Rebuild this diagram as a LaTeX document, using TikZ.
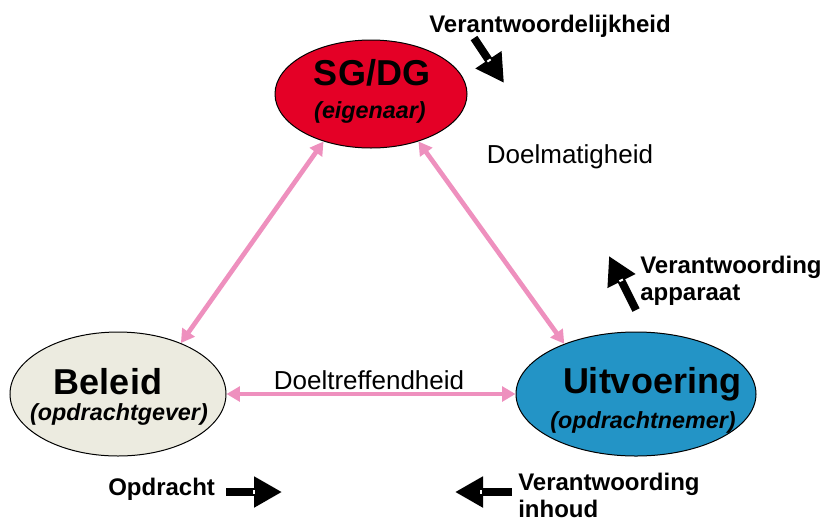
\documentclass[tikz,border=0pt]{standalone}
\usepackage{fontspec}
\setmainfont{Liberation Sans}
\usetikzlibrary{shapes.geometric,arrows.meta}

\definecolor{sgred}{HTML}{E40026}
\definecolor{beleidgrey}{HTML}{ECEBE0}
\definecolor{uitvblue}{HTML}{2394C6}
\definecolor{linkpink}{HTML}{EE90BE}

\tikzset{
  role/.style={draw=black, line width=0.75pt, ellipse, inner sep=0pt},
  title/.style={anchor=base, font=\fontsize{27}{30}\selectfont\bfseries},
  subtitle/.style={anchor=base, font=\fontsize{17.5}{20}\selectfont\bfseries\itshape},
  relation/.style={anchor=base, font=\fontsize{19.5}{22}\selectfont},
  flow/.style={anchor=base west, align=left, inner sep=0pt, font=\fontsize{18}{20}\selectfont\bfseries},
  link/.style={linkpink, line width=3.5pt, {Triangle[length=10pt,width=11pt]}-{Triangle[length=10pt,width=11pt]}},
  blockarrow/.style={black, line width=6pt, -{Triangle[length=21pt,width=22pt]}},
  whitemark/.style={sloped, fill=white, inner sep=0pt, minimum width=1.5pt, minimum height=3pt}
}

\begin{document}
\begin{tikzpicture}[x=0.75pt, y=-0.75pt]
    \useasboundingbox (0,0) rectangle (824,522);

    % The three roles
    \node[role, fill=sgred, minimum width=144pt, minimum height=81pt] (sg) at (371,94) {};
    \node[role, fill=beleidgrey, minimum width=162pt, minimum height=93pt] (beleid) at (118,394) {};
    \node[role, fill=uitvblue, minimum width=180pt, minimum height=93pt] (uitv) at (636,394) {};

    \node[title] (sgT) at (372,85) {SG/DG};
    \node[subtitle] (sgS) at (370,118) {(eigenaar)};
    \node[title] (beleidT) at (108,394) {Beleid};
    \node[subtitle] (beleidS) at (119,420) {(opdrachtgever)};
    \node[title] (uitvT) at (652,393) {Uitvoering};
    \node[subtitle] (uitvS) at (643,428) {(opdrachtnemer)};

    % Relations between the roles
    \draw[link] (sg.225) -- (beleid.39);
    \draw[link] (sg.315) -- (uitv.145);
    \draw[link] (beleid.east) -- (uitv.west);

    \node[relation] (doelm) at (570,163) {Doelmatigheid};
    \node[relation] (doeltr) at (369,389) {Doeltreffendheid};

    % Flows with block arrows
    \node[flow, anchor=base] (verantw) at (550,32) {Verantwoordelijkheid};
    \coordinate (verantwA) at (474,38);
    \coordinate (verantwB) at (504,83);
    \draw[blockarrow] (verantwA) -- (verantwB) node[whitemark, pos=0.5] {};

    \node[flow] (apparaat) at (640,300) {Verantwoording\\apparaat};
    \coordinate (apparaatA) at (636,310);
    \coordinate (apparaatB) at (609,256);
    \draw[blockarrow] (apparaatA) -- (apparaatB) node[whitemark, pos=0.55] {};

    \node[flow] (opdracht) at (108,495) {Opdracht};
    \coordinate (opdrachtA) at (226,492);
    \coordinate (opdrachtB) at (282,492);
    \draw[blockarrow] (opdrachtA) -- (opdrachtB) node[whitemark, pos=0.5] {};

    \node[flow] (inhoud) at (518,517) {Verantwoording\\inhoud};
    \coordinate (inhoudA) at (512,492);
    \coordinate (inhoudB) at (455,492);
    \draw[blockarrow] (inhoudA) -- (inhoudB) node[whitemark, pos=0.54] {};
\end{tikzpicture}
\end{document}
